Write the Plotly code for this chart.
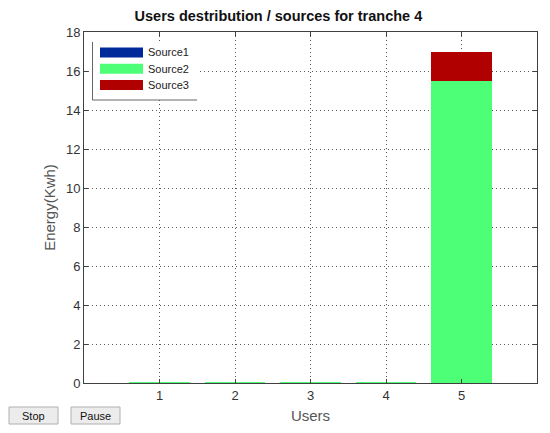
import plotly.graph_objects as go

USERS = [1, 2, 3, 4, 5]
SOURCES = ["Source1", "Source2", "Source3"]
SOURCE1 = [0, 0, 0, 0, 0]
SOURCE2 = [0.05, 0.05, 0.05, 0.05, 15.5]
SOURCE3 = [0, 0, 0, 0, 1.5]
Y_TICKS = [0, 2, 4, 6, 8, 10, 12, 14, 16, 18]

COLORS = ["#002a9a", "#4dff77", "#b00000"]
FONT = "Arial, Liberation Sans, sans-serif"

# page body has an 8px margin, so the figure starts at (8, 8) in the window
OFF = 8
W, H = 550 - OFF, 433 - OFF
L, R, T, B = 84 - OFF, 13, 32 - OFF, 50
PW, PH = W - L - R, H - T - B


def px(x):
    # window x pixel -> paper x
    return (x - OFF - L) / PW


def py(y):
    # window y pixel -> paper y
    return (H - B - (y - OFF)) / PH


fig = go.Figure()
for name, vals, col in zip(SOURCES, [SOURCE1, SOURCE2, SOURCE3], COLORS):
    fig.add_bar(x=USERS, y=vals, name=name, marker_color=col, marker_line_width=0)

shapes = []
annotations = []

# legend (MATLAB style box)
shapes.append(dict(type="rect", xref="paper", yref="paper", x0=px(92), x1=px(197),
                   y0=py(100), y1=py(42), fillcolor="white", line_width=0, layer="above"))
shapes.append(dict(type="line", xref="paper", yref="paper", x0=px(92.5), x1=px(92.5),
                   y0=py(100), y1=py(42), line=dict(color="#666", width=1), layer="above"))
shapes.append(dict(type="line", xref="paper", yref="paper", x0=px(92.5), x1=px(197),
                   y0=py(100), y1=py(100), line=dict(color="#666", width=1), layer="above"))
for i, (name, col) in enumerate(zip(SOURCES, COLORS)):
    cy = 52.5 + i * 16.3
    shapes.append(dict(type="rect", xref="paper", yref="paper", x0=px(100), x1=px(143),
                       y0=py(cy + 5), y1=py(cy - 5), fillcolor=col, line_width=0, layer="above"))
    annotations.append(dict(text=name, xref="paper", yref="paper", x=px(146), y=py(cy),
                            xanchor="left", yanchor="middle", showarrow=False,
                            font=dict(size=11, color="#222", family=FONT)))

# Stop / Pause buttons
for label, x0, x1 in [("Stop", 9, 58), ("Pause", 71, 120)]:
    shapes.append(dict(type="rect", xref="paper", yref="paper", x0=px(x0), x1=px(x1),
                       y0=py(424), y1=py(407), fillcolor="#ececec",
                       line=dict(color="#b0b0b0", width=1)))
    annotations.append(dict(text=label, xref="paper", yref="paper", x=px((x0 + x1) / 2),
                            y=py(415.5), xanchor="center", yanchor="middle", showarrow=False,
                            font=dict(size=11, color="#111", family=FONT)))

fig.update_layout(
    width=W, height=H,
    margin=dict(l=L, r=R, t=T, b=B),
    paper_bgcolor="white", plot_bgcolor="white",
    font=dict(family=FONT, color="#333", size=13),
    title=dict(text="<b>Users destribution / sources for tranche 4</b>", x=px(310), xanchor="center",
               y=1 - 3 / H, yanchor="top", font=dict(size=14.5, color="#111")),
    barmode="stack", bargap=0.2,
    showlegend=False,
    shapes=shapes, annotations=annotations,
)
axis_style = dict(showline=True, linecolor="#404040", linewidth=1, mirror="ticks",
                  ticks="inside", ticklen=4, tickcolor="#404040",
                  showgrid=True, gridcolor="#555", griddash="1px,3px", gridwidth=1,
                  zeroline=False, tickfont=dict(size=13, color="#333"))
fig.update_xaxes(range=[0, 6], tickvals=USERS,
                 title=dict(text="Users", font=dict(size=15, color="#555"), standoff=8),
                 **axis_style)
fig.update_yaxes(range=[0, 18], tickvals=Y_TICKS,
                 title=dict(text="Energy(Kwh)", font=dict(size=15, color="#555"), standoff=6),
                 **axis_style)

fig.write_html("out.html")
